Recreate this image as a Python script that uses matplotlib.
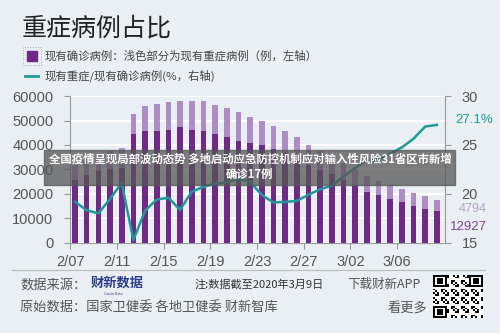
import numpy as np
import matplotlib.pyplot as plt
from matplotlib.patches import Rectangle

plt.rcParams['font.family'] = ['Noto Sans CJK SC', 'DejaVu Sans']

# data: current confirmed cases and current severe cases (China, 2/07 - 3/09)
dates = ['2/07', '2/08', '2/09', '2/10', '2/11', '2/12', '2/13', '2/14', '2/15', '2/16',
         '2/17', '2/18', '2/19', '2/20', '2/21', '2/22', '2/23', '2/24', '2/25', '2/26',
         '2/27', '2/28', '2/29', '3/01', '3/02', '3/03', '3/04', '3/05', '3/06', '3/07',
         '3/08', '3/09']
confirmed = [31774, 33738, 35982, 37626, 38800, 52526, 55748, 56873, 57416, 57934,
             58016, 57805, 56303, 54965, 53284, 51606, 49824, 47672, 45604, 43258,
             39919, 37414, 35329, 32652, 30004, 27433, 25352, 23784, 22177, 20533,
             19016, 17721]
severe = [6101, 6188, 6484, 7333, 8204, 8030, 10204, 11053, 11272, 10644,
          11741, 11977, 11864, 11633, 11477, 10968, 9915, 9126, 8752, 8346,
          7952, 7664, 7365, 7110, 6806, 6416, 5952, 5737, 5489, 5264,
          5111, 4794]
ratio = [19.20, 18.34, 18.02, 19.49, 21.14, 15.29, 18.30, 19.43, 19.63, 18.37,
         20.24, 20.72, 21.07, 21.16, 21.54, 21.25, 19.90, 19.14, 19.19, 19.29,
         19.92, 20.48, 20.85, 21.77, 22.68, 23.39, 23.48, 24.12, 24.75, 25.64,
         26.88, 27.05]
tick_labels = ['2/07', '2/11', '2/15', '2/19', '2/23', '2/27', '3/02', '3/06']

BG = '#e9eff2'
DARK = '#6e2a86'
LIGHT = '#b08cc6'
TEAL = '#1f9a9b'
GREY = '#555555'

fig = plt.figure(figsize=(5, 3.33), dpi=100, facecolor=BG)
ax = fig.add_axes([0.14, 0.2703, 0.75, 0.4414], facecolor=BG)

x = np.arange(len(dates))
mild = np.array(confirmed) - np.array(severe)
ax.bar(x, mild, width=0.48, color=DARK, zorder=3)
ax.bar(x, severe, width=0.48, bottom=mild, color=LIGHT, zorder=3)

ax.set_xlim(-0.43, 31.7)
ax.set_ylim(0, 60000)
ax.set_yticks(range(0, 60001, 10000))
ax.set_yticklabels([str(v) for v in range(0, 60001, 10000)], family='Liberation Sans')
ax.yaxis.grid(True, color='white', linewidth=1.4, zorder=0)
ax.set_axisbelow(True)
ax.set_xticks([i * 4 - 0.4 for i in range(len(tick_labels))])
ax.set_xticklabels(tick_labels, family='Liberation Sans')
ax.tick_params(axis='both', colors='#999999', labelcolor=GREY, labelsize=10.5, length=4)
ax.tick_params(axis='y', pad=8)
ax.tick_params(axis='x', pad=5)
for s in ['top', 'right']:
    ax.spines[s].set_visible(False)
for s in ['left', 'bottom']:
    ax.spines[s].set_color('#999999')

ax2 = ax.twinx()
ax2.plot(x, ratio, color=TEAL, linewidth=1.8, zorder=4)
ax2.set_ylim(15, 30)
ax2.set_yticks([15, 20, 25, 30])
ax2.set_yticklabels(['15', '20', '25', '30'], family='Liberation Sans')
ax2.tick_params(axis='y', colors='#999999', labelcolor=GREY, labelsize=10.5, length=4, pad=8)
for s in ['top', 'left', 'bottom']:
    ax2.spines[s].set_visible(False)
ax2.spines['right'].set_color('#999999')

# end labels
fig.text(0.91, 0.64, '27.1%', color=TEAL, fontsize=9.5, family='Liberation Sans', va='center')
fig.text(0.917, 0.372, str(severe[-1]), color='#b7a3c8', fontsize=9, family='Liberation Sans', va='center')
fig.text(0.90, 0.318, str(mild[-1]), color='#7b4494', fontsize=9.5, family='Liberation Sans', va='center')

# title and legend
fig.text(0.044, 0.915, '重症病例占比', fontsize=18, color='#222222', va='center')
fig.add_artist(Rectangle((0.054, 0.818), 0.02, 0.03, color=DARK, transform=fig.transFigure))
fig.add_artist(Rectangle((0.046, 0.806), 0.036, 0.054, fill=False, edgecolor='#aaaaaa',
                         linestyle=':', linewidth=0.7, transform=fig.transFigure))
fig.text(0.09, 0.832, '现有确诊病例：浅色部分为现有重症病例（例，左轴）', fontsize=8.2,
         color='#444444', va='center')
fig.add_artist(plt.Line2D([0.05, 0.076], [0.771, 0.771], color=TEAL, linewidth=2,
                          transform=fig.transFigure))
fig.text(0.09, 0.773, '现有重症/现有确诊病例(%，右轴)', fontsize=8.2, color='#444444', va='center')

# overlay banner
fig.add_artist(Rectangle((0.088, 0.445), 0.822, 0.105, color='#555555', alpha=0.75,
                         transform=fig.transFigure, zorder=10))
fig.text(0.5, 0.522, '全国疫情呈现局部波动态势 多地启动应急防控机制应对输入性风险31省区市新增',
         fontsize=8.2, color='white', weight='bold', ha='center', va='center', zorder=11)
fig.text(0.5, 0.476, '确诊17例', fontsize=8.2, color='white', weight='bold',
         ha='center', va='center', zorder=11)

# footer
fig.add_artist(plt.Line2D([0.024, 0.97], [0.189, 0.189], color='#bbbbbb', linewidth=0.8,
                          transform=fig.transFigure))
fig.text(0.04, 0.145, '数据来源：', fontsize=9.5, color=GREY, va='center')
fig.text(0.182, 0.15, '财新数据', fontsize=9.5, color='#2c3c8c', weight='bold', va='center')
fig.text(0.207, 0.118, 'Caixin Data', fontsize=2.5, color='#2c3c8c', va='center')
fig.text(0.39, 0.145, '注:数据截至2020年3月9日', fontsize=8, color='#333333', va='center')
fig.text(0.694, 0.145, '下载财新APP', fontsize=9, color=GREY, va='center')
fig.text(0.04, 0.075, '原始数据：国家卫健委 各地卫健委 财新智库', fontsize=9.5, color=GREY, va='center')
fig.text(0.776, 0.075, '看更多', fontsize=9.5, color=GREY, va='center')

# QR code block (decorative)
qax = fig.add_axes([0.866, 0.045, 0.1, 0.129])
n = 25
grid = np.zeros((n, n))
ii, jj = np.meshgrid(np.arange(n), np.arange(n), indexing='ij')
grid[((ii * 7 + jj * 13 + ii * jj) % 5) < 2] = 1
for (r, c) in [(0, 0), (0, n - 7), (n - 7, 0)]:
    grid[r:r + 7, c:c + 7] = 1
    grid[r + 1:r + 6, c + 1:c + 6] = 0
    grid[r + 2:r + 5, c + 2:c + 5] = 1
qax.imshow(1 - grid, cmap='gray', interpolation='nearest', aspect='auto')
qax.axis('off')

fig.savefig('out.png', dpi=100, facecolor=BG)
